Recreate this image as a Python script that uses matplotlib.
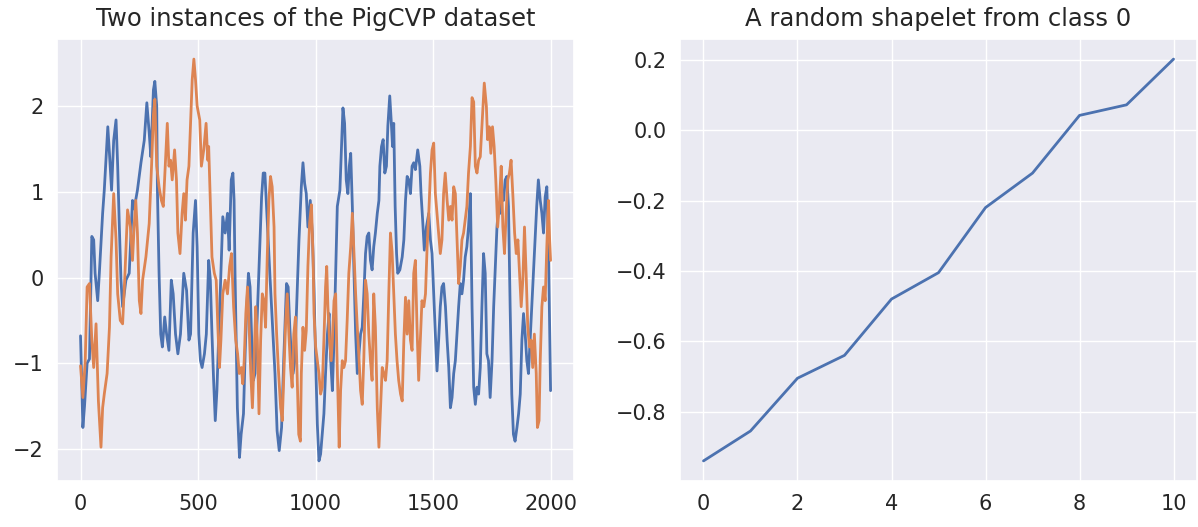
import matplotlib
matplotlib.use("Agg")
import matplotlib.pyplot as plt
import seaborn as sns

# first instance (blue) at its turning points
blue_x = [0, 10, 17, 28, 38, 48, 56, 62, 73, 80, 94, 101, 116, 123, 132, 141, 151, 158, 165, 172,
          179, 193, 207, 221, 228, 242, 257, 271, 282, 292, 299, 310, 316, 324, 327, 334, 341, 348, 358, 366,
          376, 386, 394, 404, 414, 425, 439, 451, 461, 468, 479, 489, 496, 503, 510, 517, 527, 535, 545, 552,
          559, 566, 573, 580, 587, 594, 605, 615, 625, 632, 641, 648, 653, 657, 662, 667, 676, 683, 693, 700,
          707, 714, 721, 728, 735, 742, 752, 760, 770, 777, 784, 791, 798, 805, 817, 827, 836, 845, 855, 864,
          876, 883, 890, 897, 904, 911, 918, 929, 939, 946, 953, 960, 967, 977, 986, 993, 1000, 1007, 1014, 1021,
          1028, 1035, 1042, 1050, 1057, 1064, 1071, 1078, 1085, 1092, 1103, 1110, 1116, 1123, 1130, 1137, 1143, 1149, 1156, 1163,
          1170, 1177, 1184, 1191, 1198, 1205, 1212, 1219, 1226, 1233, 1240, 1247, 1254, 1262, 1269, 1273, 1280, 1287, 1294, 1301,
          1307, 1315, 1321, 1327, 1332, 1338, 1344, 1349, 1358, 1368, 1375, 1382, 1389, 1396, 1403, 1410, 1417, 1424, 1434, 1443,
          1448, 1455, 1462, 1471, 1481, 1488, 1495, 1502, 1509, 1516, 1523, 1530, 1537, 1544, 1552, 1559, 1566, 1573, 1580, 1587,
          1594, 1601, 1608, 1615, 1622, 1629, 1636, 1643, 1650, 1658, 1665, 1672, 1679, 1686, 1693, 1700, 1707, 1714, 1721, 1728,
          1735, 1742, 1750, 1757, 1764, 1771, 1778, 1785, 1792, 1799, 1806, 1813, 1820, 1827, 1834, 1841, 1848, 1856, 1863, 1870,
          1877, 1884, 1891, 1898, 1905, 1912, 1919, 1926, 1933, 1940, 1947, 1955, 1962, 1969, 1976, 1983, 1990, 1995, 1999]
blue_y = [-0.68, -1.75, -1.5, -1.0, -0.95, 0.48, 0.44, 0.05, -0.27, 0.05, 0.75, 1.02, 1.76, 1.45, 1.02, 1.6, 1.84, 1.3, 0.6, -0.03,
          -0.34, -0.03, 0.05, 0.9, 0.8, 1.02, 1.34, 1.6, 2.04, 1.69, 1.41, 2.19, 2.29, 2.0, 1.02, 0.05, -0.66, -0.81, -0.46, -0.66,
          -0.85, -0.03, -0.19, -0.66, -0.89, -0.66, 0.05, -0.15, -0.73, -0.66, 0.52, 0.9, 0.36, -0.66, -0.97, -1.05, -0.89, -0.66, 0.2, -0.03,
          -0.66, -1.2, -1.67, -1.32, -0.73, -0.19, 0.71, 0.52, 0.75, 0.32, 1.14, 1.22, 0.9, 0.05, -0.73, -1.52, -2.1, -1.83, -1.59, -0.89,
          -0.34, 0.05, -0.11, -0.73, -1.2, -1.12, -0.42, 0.2, 0.94, 1.22, 1.22, 0.83, 0.44, 0.05, -0.58, -1.12, -1.79, -2.02, -1.75, -0.97,
          -0.07, -0.11, -0.58, -0.93, -1.12, -0.97, -0.42, 0.44, 1.06, 1.34, 1.1, 0.98, 0.59, 0.9, 0.5, -0.15, -0.97, -1.71, -2.14, -2.06,
          -1.83, -1.59, -1.12, -0.66, -0.42, -0.97, -1.32, -0.73, 0.05, 0.83, 1.02, 1.53, 1.98, 1.8, 1.14, 0.98, 1.3, 1.45, 0.83, 0.05,
          -0.66, -1.12, -0.89, -0.66, -0.58, -0.19, 0.28, 0.48, 0.52, 0.2, 0.09, 0.36, 0.52, 0.75, 0.9, 1.3, 1.53, 1.61, 1.22, 1.3,
          1.77, 2.12, 1.84, 1.53, 1.8, 0.83, 0.28, 0.05, 0.09, 0.24, 0.44, 0.9, 1.18, 1.14, 0.98, 1.3, 1.34, 1.26, 1.49, 1.3,
          0.98, 0.67, 0.32, 0.59, 0.75, 0.44, 0.28, -0.19, -0.66, -1.09, -0.73, -0.34, -0.11, -0.07, -0.34, -0.73, -1.05, -1.52, -1.4, -1.12,
          -0.97, -0.66, -0.34, -0.07, -0.19, -0.03, 0.24, 0.36, 0.59, 0.98, -0.34, -1.28, -1.48, -1.28, -1.36, -1.05, -0.34, 0.28, 0.05, -0.89,
          -0.97, -1.4, -0.97, -0.34, 0.13, 0.59, 0.83, 0.75, 0.98, 0.9, 1.14, 1.18, 0.83, -0.34, -1.36, -1.83, -1.91, -1.75, -1.59, -1.36,
          -0.73, -0.42, -0.66, -0.97, -1.12, -0.73, -0.34, 0.05, 0.44, 0.83, 1.14, 0.9, 0.75, 0.52, 0.94, 1.06, 0.36, -0.58, -1.32]

# second instance (orange)
orange_x = [0, 10, 20, 28, 38, 48, 56, 66, 76, 87, 94, 101, 113, 123, 130, 141, 151, 158, 169, 179,
            189, 200, 212, 221, 228, 235, 242, 250, 257, 264, 278, 292, 302, 310, 316, 324, 334, 344, 352, 362,
            369, 376, 383, 390, 400, 408, 414, 423, 432, 439, 446, 453, 461, 468, 475, 482, 489, 496, 507, 514,
            524, 534, 541, 545, 552, 559, 569, 577, 584, 591, 597, 605, 615, 625, 634, 642, 651, 660, 668, 675,
            684, 690, 696, 703, 710, 717, 724, 731, 738, 745, 752, 759, 766, 773, 780, 787, 794, 801, 808, 815,
            823, 827, 834, 841, 851, 858, 865, 872, 879, 886, 893, 900, 907, 914, 921, 928, 935, 939, 946, 953,
            960, 967, 974, 982, 989, 993, 1000, 1007, 1014, 1021, 1028, 1035, 1042, 1047, 1052, 1059, 1066, 1071, 1078, 1085,
            1089, 1095, 1100, 1106, 1113, 1120, 1127, 1134, 1141, 1149, 1156, 1163, 1170, 1177, 1184, 1191, 1198, 1205, 1212, 1219,
            1226, 1233, 1240, 1247, 1254, 1262, 1269, 1276, 1283, 1290, 1297, 1304, 1311, 1318, 1325, 1332, 1339, 1346, 1353, 1361,
            1368, 1375, 1382, 1389, 1396, 1403, 1410, 1417, 1424, 1431, 1438, 1445, 1452, 1460, 1467, 1474, 1481, 1488, 1495, 1502,
            1509, 1516, 1523, 1530, 1537, 1544, 1551, 1559, 1566, 1573, 1580, 1587, 1594, 1601, 1608, 1615, 1622, 1629, 1636, 1643,
            1650, 1658, 1665, 1672, 1679, 1686, 1693, 1700, 1707, 1717, 1726, 1731, 1738, 1745, 1752, 1759, 1766, 1774, 1782, 1789,
            1796, 1803, 1810, 1817, 1824, 1831, 1839, 1846, 1853, 1860, 1867, 1874, 1881, 1888, 1895, 1902, 1909, 1916, 1923, 1930,
            1938, 1943, 1950, 1955, 1962, 1969, 1976, 1983, 1990, 1995, 1999]
orange_y = [-1.03, -1.4, -0.97, -0.11, -0.07, -0.73, -1.05, -0.54, -1.44, -1.98, -1.52, -1.36, -1.12, -0.58, 0.24, 0.98, 0.44, -0.19, -0.5, -0.54,
            0.05, 0.79, 0.59, 0.2, 0.59, 0.9, 0.52, -0.27, -0.42, -0.03, 0.24, 0.63, 1.3, 1.9, 2.08, 1.3, 1.06, 0.9, 0.83, 1.41,
            1.8, 1.3, 1.37, 1.14, 1.49, 1.14, 0.52, 0.28, 0.75, 0.98, 0.67, 1.14, 1.3, 1.8, 2.31, 2.55, 2.31, 2.0, 1.84, 1.3,
            1.49, 1.8, 1.37, 1.53, 0.9, 0.24, 0.05, -0.03, -0.58, -1.05, -0.73, -0.19, -0.03, -0.19, 0.13, 0.28, -0.34, -0.73, -0.89, -1.12,
            -1.05, -1.24, -0.97, -0.42, -0.11, -0.58, -1.12, -1.52, -0.97, -0.34, -0.73, -1.59, -0.73, -0.19, -0.27, -0.58, 0.24, 0.9, 1.18, 1.06,
            0.59, -0.19, -0.66, -1.05, -1.52, -1.67, -1.12, -0.54, -0.19, -0.66, -1.05, -1.28, -0.66, -0.46, -1.12, -1.83, -1.91, -1.12, -0.58, -0.85,
            -0.62, 0.13, 0.63, 0.85, 0.24, -0.42, -0.81, -0.97, -1.12, -1.36, -1.28, -0.73, -0.11, 0.13, -0.34, -0.73, -0.97, -0.73, -0.27, -0.19,
            -0.73, -1.44, -1.98, -1.32, -0.97, -1.05, -0.97, -0.5, 0.05, 0.36, 0.75, 0.28, -0.19, -0.58, -0.93, -1.32, -1.48, -0.93, -0.03, -0.19,
            -0.66, -0.97, -1.2, -0.19, -0.58, -1.52, -1.98, -1.52, -1.05, -1.12, -1.2, -0.97, -0.19, 0.52, 0.3, -0.19, -0.66, -0.97, -1.2, -1.36,
            -1.44, -0.73, -0.23, -0.66, -0.27, -0.73, -0.85, 0.05, 0.2, -0.58, -1.2, -0.73, -0.27, -0.34, -0.19, 0.36, 0.75, 1.22, 1.49, 1.57,
            0.98, 0.75, 0.52, 0.28, 0.44, 0.98, 1.22, 0.9, 0.67, 0.83, 0.67, 1.06, 0.98, 0.44, -0.07, 0.13, 0.44, 0.52, 0.67, 0.83,
            1.22, 1.53, 2.1, 2.05, 1.3, 1.22, 1.37, 1.41, 1.76, 2.27, 2.0, 1.61, 1.76, 1.45, 1.76, 1.53, 1.14, 0.59, 0.9, 1.3,
            0.59, 0.28, 0.75, 1.14, 1.22, 1.37, 0.94, 0.52, 0.28, 0.44, 0.05, -0.34, -0.03, 0.59, 0.05, -0.58, -0.81, -0.73, -1.05, -0.66,
            -1.12, -1.75, -1.67, -0.97, -0.34, -0.11, -0.27, 0.36, 0.9, 0.44, 0.2]

# shapelet values, one per index 0..10
shapelet_y = [-0.94, -0.855, -0.705, -0.64, -0.48, -0.405, -0.22, -0.122, 0.042, 0.072, 0.202]

sns.set_theme()
plt.rcParams['font.family'] = ['DejaVu Sans']

fig = plt.figure(figsize=(11.98, 5.27), dpi=100)
ax1 = fig.add_axes([0.0476, 0.0873, 0.4316, 0.8387])
ax2 = fig.add_axes([0.5676, 0.0873, 0.4316, 0.8387])

blue = sns.color_palette("deep")[0]
orange = sns.color_palette("deep")[1]

ax1.plot(blue_x, blue_y, color=blue, lw=2.0)
ax1.plot(orange_x, orange_y, color=orange, lw=2.0)
ax1.set_title("Two instances of the PigCVP dataset", fontsize=17.5, pad=9)
ax1.set_xticks([0, 500, 1000, 1500, 2000])
ax1.set_yticks([-2, -1, 0, 1, 2])

ax2.plot(range(len(shapelet_y)), shapelet_y, color=blue, lw=2.0)
ax2.set_title("A random shapelet from class 0", fontsize=17.5, pad=9)
ax2.set_xticks([0, 2, 4, 6, 8, 10])
ax2.set_yticks([-0.8, -0.6, -0.4, -0.2, 0.0, 0.2])

for ax in (ax1, ax2):
    ax.tick_params(labelsize=15)

fig.savefig("out.png", dpi=100)
